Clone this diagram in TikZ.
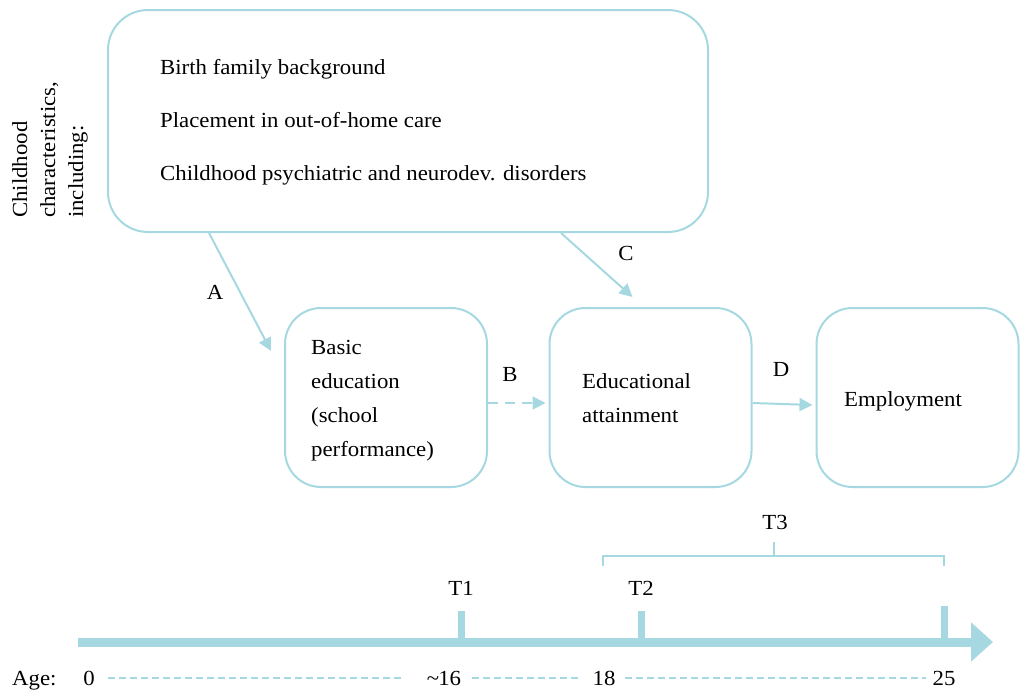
\documentclass[tikz,border=0pt]{standalone}
\usepackage{fontspec}
\setmainfont{Liberation Serif}[FakeStretch=1.06]
\usetikzlibrary{arrows.meta,calc}
\definecolor{lb}{RGB}{166,216,225}
\begin{document}
\begin{tikzpicture}[x=1pt,y=-1pt,
  font=\fontsize{21.5}{28}\selectfont,
  box/.style={draw=lb, line width=2pt, rounded corners=36pt, inner sep=0pt},
  arr/.style={draw=lb, line width=2pt, -{Triangle[length=13pt,width=13pt]}},
  lbl/.style={inner sep=0pt, anchor=base},
  txt/.style={inner sep=0pt, anchor=base west, align=left},
  tick/.style={draw=lb, line width=7pt},
  agedash/.style={draw=lb, line width=2pt, dash pattern=on 7pt off 4pt}]
\useasboundingbox (0,0) rectangle (1021,691);
% boxes
\node[box, rounded corners=40pt, minimum width=600pt, minimum height=222pt] (big) at (408,121) {};
\node[box, minimum width=202pt, minimum height=179pt] (basic) at (386,397.5) {};
\node[box, minimum width=202pt, minimum height=179pt] (edu) at (650.5,397.5) {};
\node[box, minimum width=202pt, minimum height=179pt] (emp) at (917.5,397.5) {};
% texts
\node[txt] (t1) at (160,74) {Birth family background};
\node[txt] (t2) at (160,127) {Placement in out-of-home care};
\node[txt] (t3) at (160,180) {Childhood psychiatric and neurodev. disorders};
\node[txt, font=\fontsize{21.5}{33.7}\selectfont] (tb) at (311,456) {Basic\\education\\(school\\performance)};
\node[txt, font=\fontsize{21.5}{33.7}\selectfont] (te) at (582,422) {Educational\\attainment};
\node[txt] (tm) at (844,406) {Employment};
\node[rotate=90, anchor=north west, inner sep=0pt, align=left] (side) at (12,218) {Childhood\\characteristics,\\including:};
% connectors
\draw[arr] ($(big.south west)+(102,0)$) -- ($(basic.north west)+(-13,44)$);
\draw[arr] ($(big.south west)+(454,0)$) -- ($(edu.north)+(-18,-10)$);
\draw[arr, dash pattern=on 10pt off 7pt] ($(basic.east)+(0,5.5)$) -- ($(edu.west)+(-3,5.5)$);
\draw[arr] ($(edu.east)+(0,5.5)$) -- ($(emp.west)+(-3,7.5)$);
\node[lbl] (la) at (215,299) {A};
\node[lbl] (lb) at (510,381) {B};
\node[lbl] (lc) at (626,260) {C};
\node[lbl] (ld) at (781,376) {D};
% timeline
\coordinate (tl0) at (78,642);
\coordinate (tl1) at (993,642);
\draw[draw=lb, line width=9pt, -{Triangle[length=22pt,width=38pt]}] (tl0) -- (tl1);
\draw[tick] (461,611) -- (461,640);
\draw[tick] (641,611) -- (641,640);
\draw[tick] (944,606) -- (944,640);
\node[lbl] (T1) at (461,595) {T1};
\node[lbl] (T2) at (641,595) {T2};
\node[lbl] (T3) at (775,529) {T3};
\draw[draw=lb, line width=2pt] (603,566) -- (603,556) -- (944,556) -- (944,566);
\draw[draw=lb, line width=2pt] (774,556) -- (774,542);
% age row
\node[inner sep=0pt, anchor=base west] (age) at (12,685) {Age:};
\node[lbl] (a0) at (89,685) {0};
\node[lbl] (a16) at (444,685) {\textasciitilde\kern-1pt16};
\node[lbl] (a18) at (604,685) {18};
\node[lbl] (a25) at (944,685) {25};
\draw[agedash] (108,678) -- (404,678);
\draw[agedash] (472,678) -- (578,678);
\draw[agedash] (625,678) -- (926,678);
\end{tikzpicture}
\end{document}
